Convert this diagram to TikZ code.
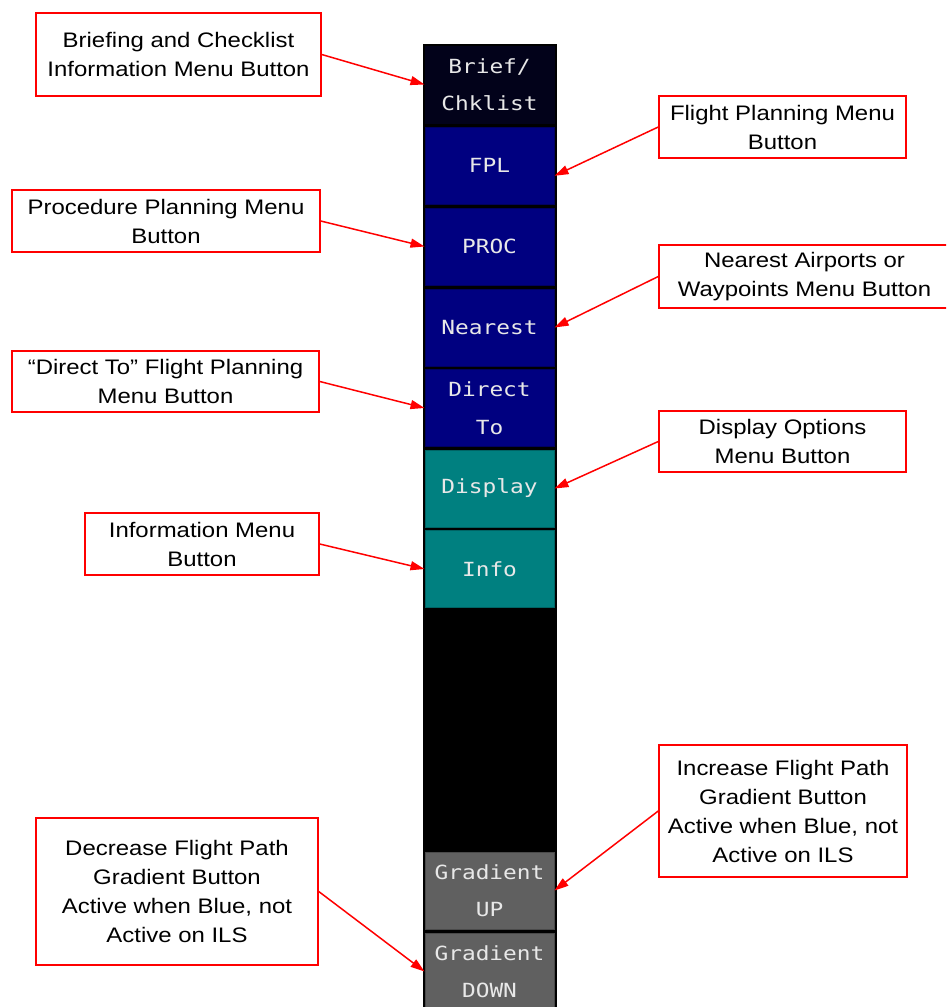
\documentclass[tikz,border=0pt]{standalone}
\usepackage{fontspec}
\setmainfont[FakeStretch=1.14]{Liberation Sans}
\newfontfamily\btnfont[FakeStretch=1.17]{DejaVu Sans Mono}
\usetikzlibrary{arrows.meta}
\definecolor{briefbg}{RGB}{2,2,26}
\definecolor{navybg}{RGB}{0,0,128}
\definecolor{navyedge}{RGB}{0,0,96}
\definecolor{tealbg}{RGB}{0,128,128}
\definecolor{tealedge}{RGB}{0,100,100}
\definecolor{greybg}{RGB}{96,96,96}
\definecolor{greyedge}{RGB}{74,74,74}
\definecolor{btntext}{RGB}{232,232,232}

\begin{document}
\begin{tikzpicture}[x=1pt,y=-1pt,
  callout/.style={draw=red,line width=1.5pt,fill=white,align=center,inner sep=0pt,
    font=\fontsize{21}{29}\selectfont},
  btn/.style={minimum width=129pt,minimum height=77pt,inner sep=0pt,align=center,
    text=btntext,line width=1pt,font=\btnfont\fontsize{19.5}{37.5}\selectfont},
  pointer/.style={red,line width=1.5pt,-{Triangle[length=14pt,width=9pt]}}]
  \clip (0,0) rectangle (946,1007);
  \useasboundingbox (0,0) rectangle (946,1007);
  \fill[white] (0,0) rectangle (946,1007);
  % button column
  \fill[black] (423,44) rectangle (557,1010);
  \node[btn,fill=briefbg,draw=briefbg] (bbrief) at (489.5,84.5) {Brief/\\Chklist};
  \node[btn,fill=navybg,draw=navyedge] (bfpl) at (489.5,165.5) {FPL};
  \node[btn,fill=navybg,draw=navyedge] (bproc) at (489.5,246.5) {PROC};
  \node[btn,fill=navybg,draw=navyedge] (bnear) at (489.5,327.5) {Nearest};
  \node[btn,fill=navybg,draw=navyedge] (bdirect) at (489.5,408) {Direct\\To};
  \node[btn,fill=tealbg,draw=tealedge] (bdisplay) at (489.5,488.5) {Display};
  \node[btn,fill=tealbg,draw=tealedge] (binfo) at (489.5,569) {Info};
  \node[btn,fill=greybg,draw=greyedge] (bup) at (489.5,890.5) {Gradient\\UP};
  \node[btn,fill=greybg,draw=greyedge] (bdown) at (489.5,971.5) {Gradient\\DOWN};
  % callouts on the left
  \node[callout,minimum width=285pt,minimum height=83pt] (cbrief) at (178.5,54.5)
    {Briefing and Checklist\\Information Menu Button};
  \node[callout,minimum width=308pt,minimum height=62pt] (cproc) at (166,221)
    {Procedure Planning Menu\\Button};
  \node[callout,minimum width=307pt,minimum height=61pt] (cdirect) at (165.5,381.5)
    {“Direct To” Flight Planning\\Menu Button};
  \node[callout,minimum width=234pt,minimum height=62pt] (cinfo) at (202,544)
    {Information Menu\\Button};
  \node[callout,minimum width=282pt,minimum height=147pt] (cdown) at (177,891.5)
    {Decrease Flight Path\\Gradient Button\\Active when Blue, not\\Active on ILS};
  % callouts on the right
  \node[callout,minimum width=247pt,minimum height=62pt] (cfpl) at (782.5,127)
    {Flight Planning Menu\\Button};
  \node[callout,minimum width=291pt,minimum height=63pt] (cnear) at (804.5,276.5)
    {Nearest Airports or\\Waypoints Menu Button};
  \node[callout,minimum width=247pt,minimum height=61pt] (cdisplay) at (782.5,441.5)
    {Display Options\\Menu Button};
  \node[callout,minimum width=248pt,minimum height=132pt] (cup) at (783,811)
    {Increase Flight Path\\Gradient Button\\Active when Blue, not\\Active on ILS};
  % pointers
  \draw[pointer] (cbrief.east) -- (bbrief.west);
  \draw[pointer] (cproc.east) -- (bproc.west);
  \draw[pointer] (cdirect.east) -- (bdirect.west);
  \draw[pointer] (cinfo.east) -- (binfo.west);
  \draw[pointer] (cdown.east) -- (bdown.west);
  \draw[pointer] (cfpl.west) -- (bfpl.-9);
  \draw[pointer] (cnear.west) -- (bnear.east);
  \draw[pointer] (cdisplay.west) -- (bdisplay.east);
  \draw[pointer] (cup.west) -- (bup.east);
\end{tikzpicture}
\end{document}
